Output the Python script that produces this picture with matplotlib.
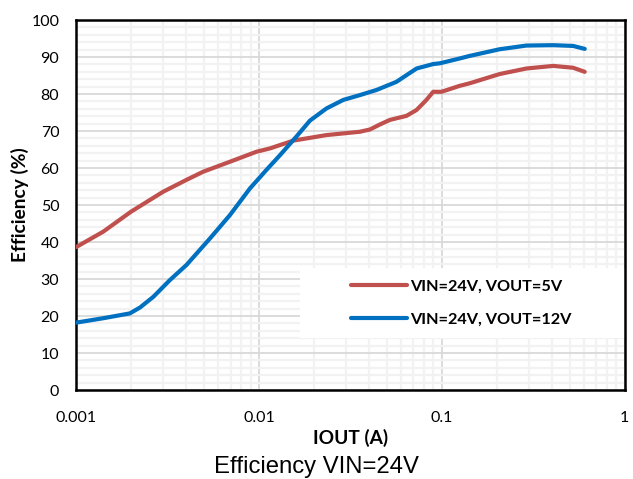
import numpy as np
import matplotlib
matplotlib.use('Agg')
import matplotlib.pyplot as plt
from matplotlib.patches import Rectangle
from matplotlib.ticker import LogLocator, MultipleLocator

# VIN=24V, VOUT=5V
iout_5v = [0.001, 0.00141, 0.002, 0.0030, 0.00402, 0.00496, 0.00695, 0.0097, 0.0115,
           0.0154, 0.0234, 0.0356, 0.0404, 0.046, 0.052, 0.0641, 0.0728, 0.082, 0.0897,
           0.0995, 0.125, 0.142, 0.207, 0.290, 0.406, 0.522, 0.604]
eff_5v = [38.6, 42.8, 48.2, 53.6, 56.8, 59.0, 61.7, 64.4, 65.3,
          67.4, 68.9, 69.8, 70.4, 71.8, 73.0, 74.1, 75.7, 78.3, 80.6,
          80.6, 82.2, 82.9, 85.4, 86.9, 87.6, 87.1, 86.0]

# VIN=24V, VOUT=12V
iout_12v = [0.001, 0.00141, 0.00197, 0.00224, 0.00265, 0.00326, 0.00402, 0.00541, 0.00695,
            0.00894, 0.0110, 0.0130, 0.0161, 0.0190, 0.0234, 0.0289, 0.0356, 0.0440, 0.0565,
            0.0641, 0.0728, 0.0897, 0.0975, 0.125, 0.142, 0.207, 0.290, 0.406, 0.522, 0.604]
eff_12v = [18.2, 19.4, 20.7, 22.3, 25.2, 29.7, 33.8, 41.0, 47.3,
           54.5, 59.5, 63.4, 68.6, 72.8, 76.1, 78.4, 79.7, 81.1, 83.3,
           85.1, 86.9, 88.1, 88.3, 89.6, 90.3, 92.1, 93.1, 93.2, 93.0, 92.2]

labels = ['VIN=24V, VOUT=5V', 'VIN=24V, VOUT=12V']
colors = ['#c0504d', '#0070c0']

fig = plt.figure(figsize=(6.33, 4.79), dpi=100)
ax = fig.add_axes([0.120, 0.1858, 0.867, 0.7724])

ax.plot(iout_5v, eff_5v, color=colors[0], lw=3.0, label=labels[0],
        solid_capstyle='round', solid_joinstyle='round', zorder=3)
ax.plot(iout_12v, eff_12v, color=colors[1], lw=3.0, label=labels[1],
        solid_capstyle='round', solid_joinstyle='round', zorder=3)

ax.set_xscale('log')
ax.set_xlim(0.001, 1)
ax.set_ylim(0, 100)
ax.set_xticks([0.001, 0.01, 0.1, 1])
ax.set_xticklabels(['0.001', '0.01', '0.1', '1'])
ax.xaxis.set_minor_locator(LogLocator(base=10, subs=np.arange(2, 10)))
ax.xaxis.set_minor_formatter(plt.NullFormatter())
ax.yaxis.set_major_locator(MultipleLocator(10))
ax.yaxis.set_minor_locator(MultipleLocator(2))

ax.set_axisbelow(True)
ax.grid(which='major', color='#d9d9d9', lw=1.3)
ax.grid(which='minor', color='#f2f2f2', lw=1.6)

for s in ax.spines.values():
    s.set_linewidth(1.8)
    s.set_color('black')

ax.tick_params(which='both', length=0, labelsize=11.5)
ax.tick_params(axis='x', pad=15)
ax.tick_params(axis='y', pad=12)
for t in ax.get_xticklabels() + ax.get_yticklabels():
    t.set_fontfamily('Lato')

ax.set_xlabel('IOUT (A)', fontsize=13.8, fontweight='bold', family='Lato', labelpad=3)
ax.set_ylabel('Efficiency (%)', fontsize=13.8, fontweight='bold', family='Lato', labelpad=2)

# white box behind legend
ax.add_patch(Rectangle((0.408, 0.14), 0.592, 0.19, transform=ax.transAxes,
                       facecolor='white', edgecolor='none', zorder=1))
leg = ax.legend(loc='center left', bbox_to_anchor=(0.475, 0.235), frameon=False,
                handlelength=3.4, handletextpad=0.25, labelspacing=1.1,
                prop={'family': 'Lato', 'weight': 'bold', 'size': 11.7})

fig.text(0.5, 0.003, 'Efficiency VIN=24V', ha='center', va='bottom',
         fontsize=17.2, family='Liberation Sans')

fig.savefig('out.png', dpi=100)
